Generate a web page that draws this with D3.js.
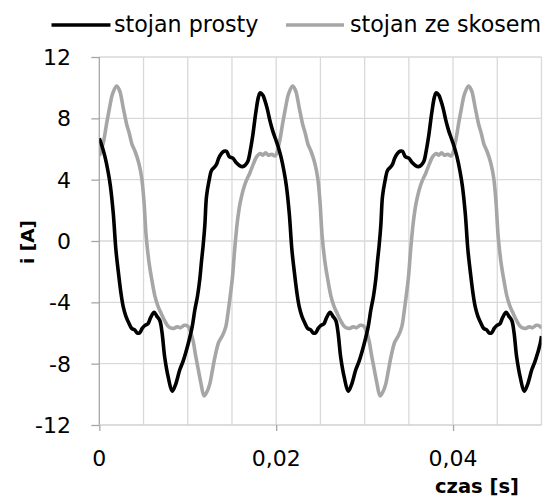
<!DOCTYPE html>
<html><head><meta charset="utf-8">
<script src="https://cdn.jsdelivr.net/npm/d3@7"></script>
<style>
html,body{margin:0;padding:0;background:#fff;}
svg{display:block;}
text{font-family:"DejaVu Sans",sans-serif;fill:#000;}
</style></head>
<body>
<script>
// ---- data (time in ms, current in A) ----
const seriesNames = ["stojan prosty", "stojan ze skosem"];
const seriesColors = ["#000000", "#a6a6a6"];

const tBlack = [0,0.3,0.64,1.0,1.25,1.58,1.88,2.15,2.45,2.71,3.0,3.3,3.66,4.0,4.3,4.55,4.85,5.16,5.5,5.8,6.2,6.5,6.85,7.1,7.4,7.8,8.24,8.6,9.1,9.5,10.05,10.5,10.8,11.1,11.36,11.56,11.74,11.93,12.12,12.4,12.69,13.0,13.25,13.5,13.8,14.1,14.38,14.7,15.1,15.5,15.9,16.18,16.5,16.8,17.1,17.38,17.7,18.0,18.2,18.5,18.7,19.0,19.27,19.6,
  19.9,20.2,20.54,20.9,21.15,21.48,21.78,22.05,22.35,22.61,22.9,23.2,23.56,23.9,24.2,24.45,24.75,25.06,25.4,25.7,26.1,26.4,26.75,27.0,27.3,27.7,28.14,28.5,29.0,29.4,29.95,30.4,30.7,31.0,31.26,31.46,31.64,31.83,32.02,32.3,32.59,32.9,33.15,33.4,33.7,34.0,34.28,34.6,35.0,35.4,35.8,36.08,36.4,36.7,37.0,37.28,37.6,37.9,38.1,38.4,38.6,38.9,39.17,39.5,
  39.8,40.1,40.44,40.8,41.05,41.38,41.68,41.95,42.25,42.51,42.8,43.1,43.46,43.8,44.1,44.35,44.65,44.96,45.3,45.6,46.0,46.3,46.65,46.9,47.2,47.6,48.04,48.4,48.9,49.3,49.85,50.0];
const iBlack = [6.7,6.2,5.5,4.5,3.6,1.8,-0.6,-2.0,-3.4,-4.3,-4.9,-5.3,-5.7,-5.8,-6.0,-6.0,-5.7,-5.5,-5.4,-5.0,-4.65,-4.9,-5.2,-6.0,-7.6,-8.9,-9.8,-9.4,-8.4,-7.8,-6.7,-5.6,-4.5,-3.6,-2.5,-1.3,-0.3,1.0,2.9,3.9,4.6,4.8,5.0,5.4,5.7,5.85,5.85,5.5,5.4,5.1,4.9,4.85,4.95,5.2,6.0,7.0,8.4,9.4,9.67,9.5,9.2,8.6,7.9,7.2,
  6.7,6.2,5.5,4.5,3.6,1.8,-0.6,-2.0,-3.4,-4.3,-4.9,-5.3,-5.7,-5.8,-6.0,-6.0,-5.7,-5.5,-5.4,-5.0,-4.65,-4.9,-5.2,-6.0,-7.6,-8.9,-9.8,-9.4,-8.4,-7.8,-6.7,-5.6,-4.5,-3.6,-2.5,-1.3,-0.3,1.0,2.9,3.9,4.6,4.8,5.0,5.4,5.7,5.85,5.85,5.5,5.4,5.1,4.9,4.85,4.95,5.2,6.0,7.0,8.4,9.4,9.67,9.5,9.2,8.6,7.9,7.2,
  6.7,6.2,5.5,4.5,3.6,1.8,-0.6,-2.0,-3.4,-4.3,-4.9,-5.3,-5.7,-5.8,-6.0,-6.0,-5.7,-5.5,-5.4,-5.0,-4.65,-4.9,-5.2,-6.0,-7.6,-8.9,-9.8,-9.4,-8.4,-7.8,-6.7,-6.2];

const tGray = [0,0.45,0.84,1.1,1.5,1.96,2.3,2.7,3.1,3.4,3.7,4.0,4.25,4.5,4.8,5.05,5.3,5.6,5.9,6.29,6.6,6.9,7.3,7.7,8.0,8.4,8.8,9.2,9.6,10.0,10.3,10.6,10.9,11.2,11.5,11.85,12.2,12.5,12.8,13.1,13.5,13.9,14.3,14.55,14.8,15.05,15.3,15.6,15.9,16.25,16.6,17.0,17.4,17.8,18.2,18.5,18.8,19.1,19.5,
  19.9,20.35,20.74,21.0,21.4,21.86,22.2,22.6,23.0,23.3,23.6,23.9,24.15,24.4,24.7,24.95,25.2,25.5,25.8,26.19,26.5,26.8,27.2,27.6,27.9,28.3,28.7,29.1,29.5,29.9,30.2,30.5,30.8,31.1,31.4,31.75,32.1,32.4,32.7,33.0,33.4,33.8,34.2,34.45,34.7,34.95,35.2,35.5,35.8,36.15,36.5,36.9,37.3,37.7,38.1,38.4,38.7,39.0,39.4,
  39.8,40.25,40.64,40.9,41.3,41.76,42.1,42.5,42.9,43.2,43.5,43.8,44.05,44.3,44.6,44.85,45.1,45.4,45.7,46.09,46.4,46.7,47.1,47.5,47.8,48.2,48.6,49.0,49.4,49.8,50.0];
const iGray = [5.55,6.4,7.7,8.5,9.6,10.1,9.8,8.7,7.6,7.0,6.3,5.9,5.5,5.0,4.1,2.6,0.3,-1.3,-2.4,-3.6,-4.2,-4.6,-5.1,-5.5,-5.65,-5.7,-5.6,-5.65,-5.5,-5.55,-5.9,-6.5,-7.5,-8.4,-9.3,-10.1,-9.8,-9.3,-8.4,-7.5,-6.6,-6.2,-5.6,-4.7,-3.6,-2.4,-0.6,1.2,2.4,3.3,3.9,4.4,5.0,5.5,5.7,5.6,5.75,5.6,5.65,
  5.55,6.4,7.7,8.5,9.6,10.1,9.8,8.7,7.6,7.0,6.3,5.9,5.5,5.0,4.1,2.6,0.3,-1.3,-2.4,-3.6,-4.2,-4.6,-5.1,-5.5,-5.65,-5.7,-5.6,-5.65,-5.5,-5.55,-5.9,-6.5,-7.5,-8.4,-9.3,-10.1,-9.8,-9.3,-8.4,-7.5,-6.6,-6.2,-5.6,-4.7,-3.6,-2.4,-0.6,1.2,2.4,3.3,3.9,4.4,5.0,5.5,5.7,5.6,5.75,5.6,5.65,
  5.55,6.4,7.7,8.5,9.6,10.1,9.8,8.7,7.6,7.0,6.3,5.9,5.5,5.0,4.1,2.6,0.3,-1.3,-2.4,-3.6,-4.2,-4.6,-5.1,-5.5,-5.65,-5.7,-5.6,-5.65,-5.5,-5.55,-5.7];

const yTicks = [-12,-8,-4,0,4,8,12];
const xGridTicks = [0,5,10,15,20,25,30,35,40,45,50];
const xLabelTicks = [0,20,40];
const xTickLabels = ["0","0,02","0,04"];
const xTitle = "czas [s]";
const yTitle = "i [A]";

// ---- layout ----
const W = 556, H = 501;
const L = 99.3, R = 541.5, T = 57, B = 425;

const svg = d3.select("body").append("svg").attr("width", W).attr("height", H);
const x = d3.scaleLinear().domain([0, 50]).range([L, R]);
const y = d3.scaleLinear().domain([-12, 12]).range([B, T]);

// gridlines
svg.append("g").selectAll("line").data(yTicks.filter(v => v !== -12)).join("line")
  .attr("x1", L).attr("x2", R).attr("y1", d => y(d)).attr("y2", d => y(d))
  .attr("stroke", "#d9d9d9").attr("stroke-width", 1.3);
svg.append("g").selectAll("line").data(xGridTicks.filter(v => v !== 0)).join("line")
  .attr("x1", d => x(d)).attr("x2", d => x(d)).attr("y1", T).attr("y2", B)
  .attr("stroke", "#d9d9d9").attr("stroke-width", 1.3);

// axes
const yAxis = svg.append("g").attr("transform", `translate(${L},0)`)
  .call(d3.axisLeft(y).tickValues(yTicks).tickSize(8).tickFormat(""));
yAxis.select(".domain").attr("stroke", "#a6a6a6").attr("stroke-width", 1.3).attr("d", `M0,${T}V${B}`);
yAxis.selectAll(".tick line").attr("stroke", "#a6a6a6").attr("stroke-width", 1.3);

const xAxis = svg.append("g").attr("transform", `translate(0,${B})`)
  .call(d3.axisBottom(x).tickValues(xLabelTicks).tickSize(6).tickFormat(""));
xAxis.select(".domain").attr("stroke", "#d0d0d0").attr("stroke-width", 1.3).attr("d", `M${L},0H${R}`);
xAxis.selectAll(".tick line").attr("stroke", "#a6a6a6").attr("stroke-width", 1.3);

// tick labels
svg.append("g").selectAll("text").data(yTicks).join("text")
  .attr("x", 71).attr("y", d => y(d) + 8).attr("text-anchor", "end")
  .attr("font-size", 22).text(d => d);
svg.append("g").selectAll("text").data(xLabelTicks).join("text")
  .attr("x", d => x(d)).attr("y", 466).attr("text-anchor", "middle")
  .attr("font-size", 22).text((d, i) => xTickLabels[i]);

// axis titles
svg.append("text").attr("x", 477).attr("y", 493).attr("text-anchor", "middle")
  .attr("font-size", 19.5).attr("font-weight", "bold").text(xTitle);
svg.append("text").attr("transform", "translate(34,242) rotate(-90)").attr("text-anchor", "middle")
  .attr("font-size", 18.5).attr("font-weight", "bold").text(yTitle);

// lines
const line = d3.line().x(d => x(d[0])).y(d => y(d[1])).curve(d3.curveCatmullRom.alpha(0.5));
const clip = svg.append("clipPath").attr("id", "c").append("rect")
  .attr("x", L).attr("y", T - 10).attr("width", R - L).attr("height", B - T + 20);
const series = [
  tGray.map((t, k) => [t, iGray[k]]),
  tBlack.map((t, k) => [t, iBlack[k]])
];
svg.append("g").attr("clip-path", "url(#c)").selectAll("path").data(series).join("path")
  .attr("d", line).attr("fill", "none")
  .attr("stroke", (d, k) => k === 0 ? seriesColors[1] : seriesColors[0])
  .attr("stroke-width", 3.6).attr("stroke-linejoin", "round");

// legend
const legend = [
  {x1: 51.5, x2: 110.5, tx: 114, name: seriesNames[0], color: seriesColors[0]},
  {x1: 286, x2: 344, tx: 350, name: seriesNames[1], color: seriesColors[1]}
];
const lg = svg.append("g").selectAll("g").data(legend).join("g");
lg.append("line").attr("x1", d => d.x1).attr("x2", d => d.x2).attr("y1", 25).attr("y2", 25)
  .attr("stroke", d => d.color).attr("stroke-width", 3.6);
lg.append("text").attr("x", d => d.tx).attr("y", 32).attr("font-size", 22.2).text(d => d.name);
</script>
</body></html>
